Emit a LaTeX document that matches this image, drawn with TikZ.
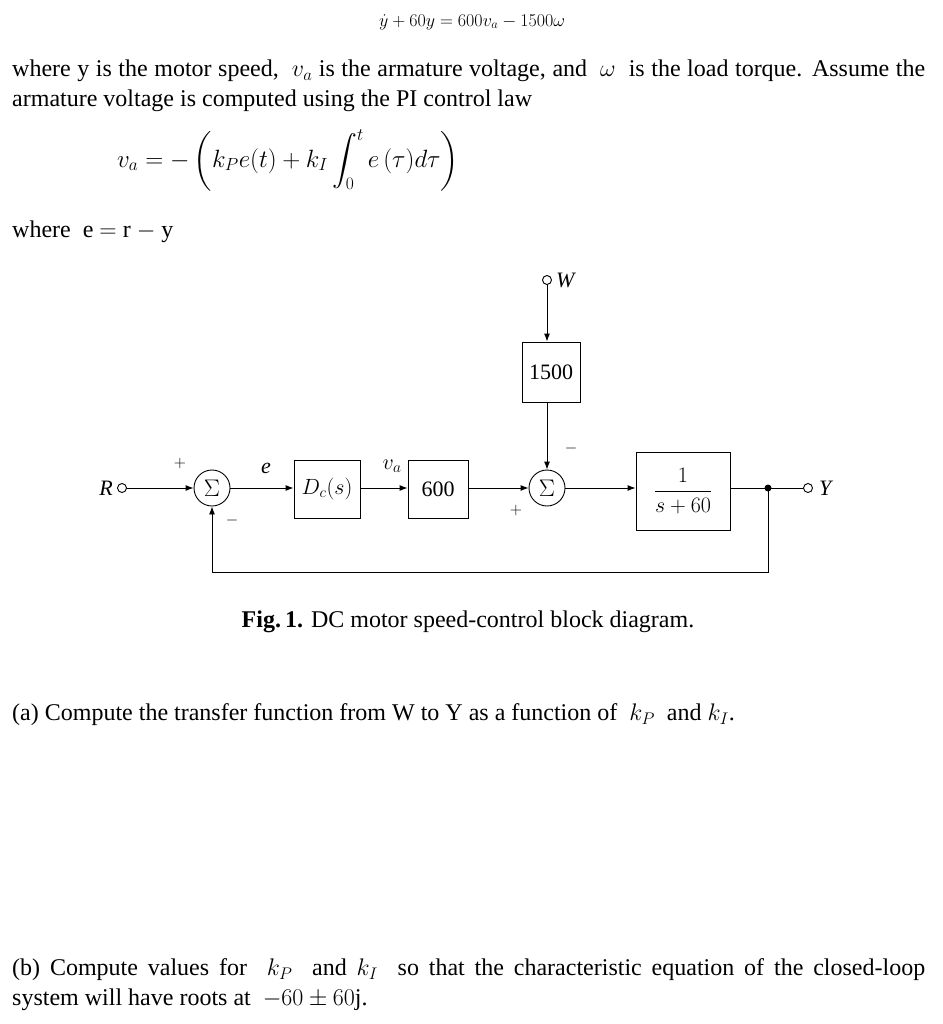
\documentclass[tikz,border=0pt]{standalone}
\usepackage{fix-cm}
\usepackage{fontspec}
\setmainfont{Liberation Serif}
\usepackage{amsmath}
\usetikzlibrary{arrows.meta}
\begin{document}
\begin{tikzpicture}[x=1pt,y=-1pt,
  txt/.style={anchor=west,inner sep=0pt,font=\fontsize{24}{30}\selectfont},
  blk/.style={draw,line width=0.9pt,inner sep=0pt,font=\fontsize{22}{24}\selectfont},
  sumn/.style={draw,circle,line width=0.9pt,minimum size=36pt,inner sep=0pt,font=\fontsize{24}{24}\selectfont},
  port/.style={draw,circle,line width=0.9pt,minimum size=9pt,inner sep=0pt},
  lab/.style={inner sep=1pt,font=\fontsize{22}{22}\selectfont\itshape},
  sig/.style={line width=0.9pt,-{Latex[length=8pt,width=6pt]}},
  ln/.style={line width=0.9pt}]
\useasboundingbox (0,0) rectangle (942,1024);
% text
\node[inner sep=0pt,font=\fontsize{18}{22}\selectfont] (eq1) at (472,22) {$\dot y+60y=600v_a-1500\omega$};
\node[txt,text width=913pt,align=justify] (p1) at (12,86) {where y is the motor speed,\ \ $v_a$\ is the armature voltage, and\ \ $\omega$\ \ is the load torque. Assume the\linebreak armature voltage is computed using the PI control law};
\node[inner sep=0pt,font=\fontsize{25}{28}\selectfont] (eq2) at (288,160) {$v_a=-\left(k_Pe(t)+k_I\displaystyle\int_0^t e\,(\tau)d\tau\right)$};
\node[txt] (p2) at (12,232) {where\ \ e $=$ r $-$ y};
\node[inner sep=0pt,font=\fontsize{24}{28}\selectfont] (cap) at (468,622) {\textbf{Fig.\,1.} DC motor speed-control block diagram.};
\node[txt] (qa) at (12,715) {(a) Compute the transfer function from W to Y as a function of\ \ $k_P$\ \ and $k_I$.};
\node[txt,text width=913pt,align=justify] (qb) at (12,985) {(b) Compute values for\ \ $k_P$\ \ and\ $k_I$\ \ so that the characteristic equation of the closed-loop\linebreak system will have roots at\ \ $-60\pm60$j.};
% diagram
\node[port] (R) at (122,488) {};
\node[lab,anchor=east] (Rl) at (114,488) {R};
\node[sumn] (s1) at (212,488) {$\Sigma$};
\node[blk,minimum width=66pt,minimum height=58pt] (Dc) at (327,489) {$D_c(s)$};
\node[blk,minimum width=60pt,minimum height=58pt] (g600) at (438,489) {600};
\node[sumn] (s2) at (547,488) {$\Sigma$};
\node[blk,minimum width=58pt,minimum height=60pt] (g1500) at (551,372) {1500};
\node[port] (W) at (547,280) {};
\node[lab,anchor=west] (Wl) at (555,280) {W};
\node[blk,minimum width=94pt,minimum height=78pt] (G) at (683,491) {$\dfrac{1}{s+60}$};
\coordinate (br) at (768,488);
\fill (br) circle (3.5pt);
\node[port] (Y) at (808,488) {};
\node[lab,anchor=west] (Yl) at (818,488) {Y};
\coordinate (fb) at (768,572);
\coordinate (fb2) at (212,572);
\draw[sig] (R) -- (s1);
\draw[sig] (s1) -- (Dc.west|-s1);
\draw[sig] (Dc.east|-s1) -- (g600.west|-s1);
\draw[sig] (g600.east|-s1) -- (s2);
\draw[sig] (s2) -- (G.west|-s2);
\draw[ln] (G.east|-s2) -- (Y);
\draw[sig] (W) -- (W|-g1500.north);
\draw[sig] (W|-g1500.south) -- (s2);
\draw[sig] (br) -- (fb) -- (fb2) -- (s1);
\node[lab] (el) at (266,468) {e};
\node[lab] (val) at (392,466) {$v_a$};
\node[inner sep=0pt,font=\fontsize{16}{18}\selectfont] (p1s) at (180,463) {$+$};
\node[inner sep=0pt,font=\fontsize{16}{18}\selectfont] (m1s) at (232,520) {$-$};
\node[inner sep=0pt,font=\fontsize{16}{18}\selectfont] (p2s) at (516,510) {$+$};
\node[inner sep=0pt,font=\fontsize{16}{18}\selectfont] (m2s) at (571,448) {$-$};
\end{tikzpicture}
\end{document}
